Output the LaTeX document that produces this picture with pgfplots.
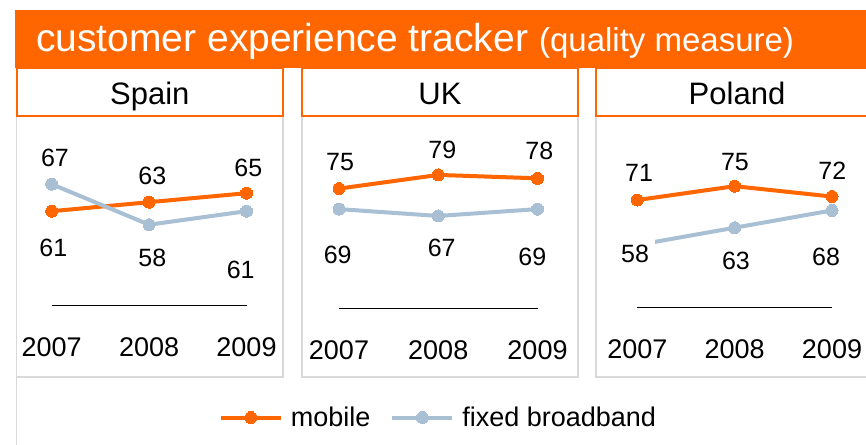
\documentclass[border=0pt]{standalone}
\usepackage{pgfplots}
\pgfplotsset{compat=1.18}
\usepackage{fontspec}
\setmainfont{Liberation Sans}
\definecolor{ora}{RGB}{255,102,0}
\definecolor{fbb}{RGB}{168,191,212}
\definecolor{pgray}{RGB}{217,217,217}
\pgfplotsset{
  panel/.style={
    scale only axis, clip=false,
    xmin=2007, xmax=2009, ymin=40,
    axis x line*=bottom, hide y axis,
    axis line style={black, line width=1.5pt},
    xtick={2007,2008,2009}, xticklabels={2007,2008,2009},
    major tick length=0pt,
    xticklabel style={anchor=center, yshift=-42pt, font=\fontsize{27}{29}\selectfont},
    /pgf/number format/assume math mode=true,
    anchor=south west,
  },
  mob/.style={ora, line width=4pt, mark=*, mark size=6pt, mark options={solid, fill=ora, draw=ora, line width=0pt}},
  fix/.style={fbb, line width=4pt, mark=*, mark size=6pt, mark options={solid, fill=fbb, draw=fbb, line width=0pt}},
}
\tikzset{
  lbl/.style={font=\fontsize{25}{27}\selectfont, fill=white, inner sep=6pt},
}
\begin{document}
\begin{tikzpicture}
\useasboundingbox (0pt,0pt) rectangle (866pt,444pt);
% backgrounds
\fill[ora] (15pt,376pt) rectangle (880pt,434pt);
\draw[pgray, line width=1.5pt] (16.5pt,328pt) rectangle (283pt,67pt);
\draw[pgray, line width=1.5pt] (302pt,328pt) rectangle (578pt,67pt);
\draw[pgray, line width=1.5pt] (596pt,328pt) rectangle (890pt,67pt);
\draw[pgray, line width=1.5pt] (16.5pt,328pt) -- (16.5pt,-5pt);
\draw[ora, fill=white, line width=2pt] (16.5pt,328pt) rectangle (283pt,376pt);
\draw[ora, fill=white, line width=2pt] (302pt,328pt) rectangle (578pt,376pt);
\draw[ora, fill=white, line width=2pt] (596pt,328pt) rectangle (890pt,376pt);
% titles
\node[anchor=base west, inner sep=0pt, text=white] at (36pt,392.3pt)
  {\fontsize{39}{41}\selectfont customer experience tracker {\fontsize{33}{35}\selectfont (quality measure)}};
\node[anchor=base, inner sep=0pt, font=\fontsize{31}{33}\selectfont] at (149.75pt,339.7pt) {Spain};
\node[anchor=base, inner sep=0pt, font=\fontsize{31}{33}\selectfont] at (440pt,339.7pt) {UK};
\node[anchor=base, inner sep=0pt, font=\fontsize{31}{33}\selectfont] at (737pt,339.7pt) {Poland};

% Spain
\begin{axis}[panel, at={(51.7pt,138.3pt)}, width=194.8pt, height=175.7pt, ymax=79.04]
\addplot[mob] coordinates {(2007,61) (2008,63) (2009,65)};
\addplot[fix] coordinates {(2007,67) (2008,58) (2009,61)};
\coordinate (sm1) at (axis cs:2007,61);
\coordinate (sm2) at (axis cs:2008,63);
\coordinate (sm3) at (axis cs:2009,65);
\coordinate (sf1) at (axis cs:2007,67);
\coordinate (sf2) at (axis cs:2008,58);
\coordinate (sf3) at (axis cs:2009,61);
\end{axis}
\node[lbl, xshift=3.3pt, yshift=25.9pt] at (sf1) {67};
\node[lbl, xshift=1.6pt, yshift=-37.1pt] at (sm1) {61};
\node[lbl, xshift=3.2pt, yshift=26.5pt] at (sm2) {63};
\node[lbl, xshift=3.2pt, yshift=-33.6pt] at (sf2) {58};
\node[lbl, xshift=1.8pt, yshift=24.9pt] at (sm3) {65};
\node[lbl, xshift=-5.8pt, yshift=-58.8pt] at (sf3) {61};

% UK
\begin{axis}[panel, at={(339pt,135.7pt)}, width=198.5pt, height=178.3pt, ymax=92.13,
  legend columns=-1,
  legend style={at={(0.496,-0.6125)}, anchor=center, draw=none, fill=none,
    font=\fontsize{27}{29}\selectfont, nodes={inner sep=0pt},
    /tikz/every odd column/.append style={column sep=8pt},
    /tikz/every even column/.append style={column sep=20pt}},
  legend image code/.code={\draw[mark repeat=2,mark phase=2,#1] plot coordinates {(0pt,0pt) (30pt,0pt) (60pt,0pt)};}
]
\addplot[mob] coordinates {(2007,75) (2008,79) (2009,78)};
\addlegendentry{mobile}
\addplot[fix] coordinates {(2007,69) (2008,67) (2009,69)};
\addlegendentry{fixed broadband}
\coordinate (um1) at (axis cs:2007,75);
\coordinate (um2) at (axis cs:2008,79);
\coordinate (um3) at (axis cs:2009,78);
\coordinate (uf1) at (axis cs:2007,69);
\coordinate (uf2) at (axis cs:2008,67);
\coordinate (uf3) at (axis cs:2009,69);
\end{axis}
\node[lbl, xshift=1pt, yshift=26.3pt] at (um1) {75};
\node[lbl, xshift=4pt, yshift=24.9pt] at (um2) {79};
\node[lbl, xshift=1.8pt, yshift=27.3pt] at (um3) {78};
\node[lbl, xshift=-1.3pt, yshift=-45.9pt] at (uf1) {69};
\node[lbl, xshift=3.4pt, yshift=-32.3pt] at (uf2) {67};
\node[lbl, xshift=-5.2pt, yshift=-47.6pt] at (uf3) {69};

% Poland
\begin{axis}[panel, at={(637.3pt,136.7pt)}, width=194.7pt, height=177.3pt, ymax=91.24]
\addplot[mob] coordinates {(2007,71) (2008,75) (2009,72)};
\addplot[fix] coordinates {(2007,58) (2008,63) (2009,68)};
\coordinate (pm1) at (axis cs:2007,71);
\coordinate (pm2) at (axis cs:2008,75);
\coordinate (pm3) at (axis cs:2009,72);
\coordinate (pf1) at (axis cs:2007,58);
\coordinate (pf2) at (axis cs:2008,63);
\coordinate (pf3) at (axis cs:2009,68);
\end{axis}
\node[lbl, xshift=1.7pt, yshift=26.7pt] at (pm1) {71};
\node[lbl, xshift=0.3pt, yshift=24.5pt] at (pm2) {75};
\node[lbl, xshift=0.3pt, yshift=25.9pt] at (pm3) {72};
\node[lbl, xshift=-2.3pt, yshift=-9pt, inner ysep=8pt] at (pf1) {58};
\node[lbl, xshift=1.3pt, yshift=-33pt] at (pf2) {63};
\node[lbl, xshift=-6pt, yshift=-46.9pt] at (pf3) {68};
\end{tikzpicture}
\end{document}
